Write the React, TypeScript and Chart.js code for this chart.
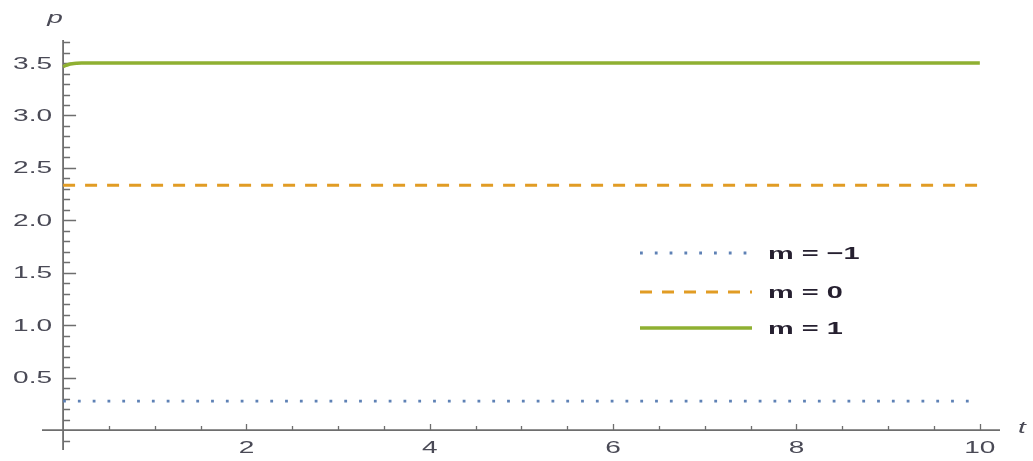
import React, { useEffect, useRef } from "react";
import { Chart, registerables } from "chart.js";

Chart.register(...registerables);

// ---- data ----
const seriesLabels = ["m = \u22121", "m = 0", "m = 1"];
const tFlat = [0, 10];
const pMinus1 = [0.276, 0.276];
const pZero = [2.335, 2.335];
const tOne = [0, 0.03, 0.06, 0.1, 0.15, 0.2, 0.3, 10];
const pOne = [3.465, 3.478, 3.487, 3.494, 3.498, 3.5, 3.5, 3.5];

const yTickLabels = ["0.5", "1.0", "1.5", "2.0", "2.5", "3.0", "3.5"];
const xTickLabels = ["2", "4", "6", "8", "10"];

const colors = ["#5E81B5", "#E19C24", "#8FB032"];

const STRETCH = 1.7;

function stretchedText(ctx: CanvasRenderingContext2D, text: string, x: number, y: number, align: "left" | "right" | "center") {
  ctx.save();
  const w = ctx.measureText(text).width * STRETCH;
  let left = x;
  if (align === "right") left = x - w;
  else if (align === "center") left = x - w / 2;
  ctx.translate(left, y);
  ctx.scale(STRETCH, 1);
  ctx.textAlign = "left";
  ctx.fillText(text, 0, 0);
  ctx.restore();
}

const axesPlugin = {
  id: "mmaAxes",
  beforeDatasetsDraw(chart: any) {
    const ctx: CanvasRenderingContext2D = chart.ctx;
    const xs = chart.scales.x;
    const ys = chart.scales.y;
    const x0 = xs.getPixelForValue(0);
    const y0 = ys.getPixelForValue(0);
    const ca = chart.chartArea;
    ctx.save();
    ctx.strokeStyle = "#6e6e6e";
    ctx.lineWidth = 1.8;
    ctx.beginPath();
    ctx.moveTo(ca.left, y0);
    ctx.lineTo(ca.right, y0);
    ctx.moveTo(x0, ca.top);
    ctx.lineTo(x0, ca.bottom);
    ctx.stroke();
    ctx.lineWidth = 1.3;
    ctx.beginPath();
    // y ticks every 0.1
    for (let i = -1; i <= 37; i++) {
      if (i === 0) continue;
      const v = i / 10;
      const py = Math.round(ys.getPixelForValue(v)) + 0.5;
      const major = i % 5 === 0;
      ctx.moveTo(x0, py);
      ctx.lineTo(x0 + (major ? 13 : 7), py);
    }
    // x ticks every 0.5
    for (let i = 1; i <= 20; i++) {
      const v = i / 2;
      const px = Math.round(xs.getPixelForValue(v)) + 0.5;
      const major = i % 4 === 0;
      ctx.moveTo(px, y0);
      ctx.lineTo(px, y0 - (major ? 6 : 4));
    }
    ctx.stroke();

    ctx.fillStyle = "#4a4a56";
    ctx.font = "16.5px 'Liberation Sans', Arial, sans-serif";
    ctx.textBaseline = "middle";
    yTickLabels.forEach((l) => {
      stretchedText(ctx, l, x0 - 11, ys.getPixelForValue(parseFloat(l)) + 1, "right");
    });
    ctx.textBaseline = "top";
    xTickLabels.forEach((l) => {
      stretchedText(ctx, l, xs.getPixelForValue(parseFloat(l)), y0 + 10, "center");
    });
    ctx.font = "italic 16.5px 'Liberation Sans', Arial, sans-serif";
    ctx.textBaseline = "middle";
    stretchedText(ctx, "p", x0 - 8, 18, "center");
    stretchedText(ctx, "t", 1022, y0 - 2, "center");
    ctx.restore();
  },
  afterDraw(chart: any) {
    const ctx: CanvasRenderingContext2D = chart.ctx;
    const rows = [253, 292, 328];
    ctx.save();
    chart.data.datasets.forEach((ds: any, i: number) => {
      const y = rows[i];
      ctx.strokeStyle = ds.borderColor;
      ctx.lineWidth = ds.borderWidth;
      ctx.lineCap = ds.borderCapStyle || "butt";
      ctx.setLineDash(ds.borderDash || []);
      ctx.beginPath();
      ctx.moveTo(640, y);
      ctx.lineTo(752, y);
      ctx.stroke();
      ctx.setLineDash([]);
      ctx.fillStyle = "#262030";
      ctx.font = "bold 17px 'Liberation Sans', Arial, sans-serif";
      ctx.textBaseline = "middle";
      stretchedText(ctx, ds.label, 768, y + 1, "left");
    });
    ctx.restore();
  },
};

export default function App() {
  const ref = useRef<HTMLCanvasElement | null>(null);
  useEffect(() => {
    document.body.style.margin = "0";
    const canvas = ref.current;
    if (!canvas) return;
    const chart = new Chart(canvas, {
      type: "line",
      data: {
        datasets: [
          {
            label: seriesLabels[0],
            data: tFlat.map((t, i) => ({ x: t, y: pMinus1[i] })),
            borderColor: colors[0],
            borderWidth: 2.8,
            borderDash: [2.8, 12],
            borderCapStyle: "butt",
            pointRadius: 0,
          },
          {
            label: seriesLabels[1],
            data: tFlat.map((t, i) => ({ x: t, y: pZero[i] })),
            borderColor: colors[1],
            borderWidth: 2.8,
            borderDash: [12, 10],
            pointRadius: 0,
          },
          {
            label: seriesLabels[2],
            data: tOne.map((t, i) => ({ x: t, y: pOne[i] })),
            borderColor: colors[2],
            borderWidth: 3.6,
            cubicInterpolationMode: "monotone",
            pointRadius: 0,
          },
        ] as any,
      },
      options: {
        animation: false,
        responsive: false,
        layout: { padding: { left: 42, right: 33, top: 40, bottom: 11 } },
        plugins: { legend: { display: false }, tooltip: { enabled: false } },
        scales: {
          x: { type: "linear", min: -0.23, max: 10.22, display: false },
          y: { type: "linear", min: -0.19, max: 3.72, display: false },
        },
      },
      plugins: [axesPlugin],
    });
    return () => chart.destroy();
  }, []);
  return (
    <div style={{ width: 1033, height: 461, background: "#fff" }}>
      <canvas ref={ref} width={1033} height={461} />
    </div>
  );
}
